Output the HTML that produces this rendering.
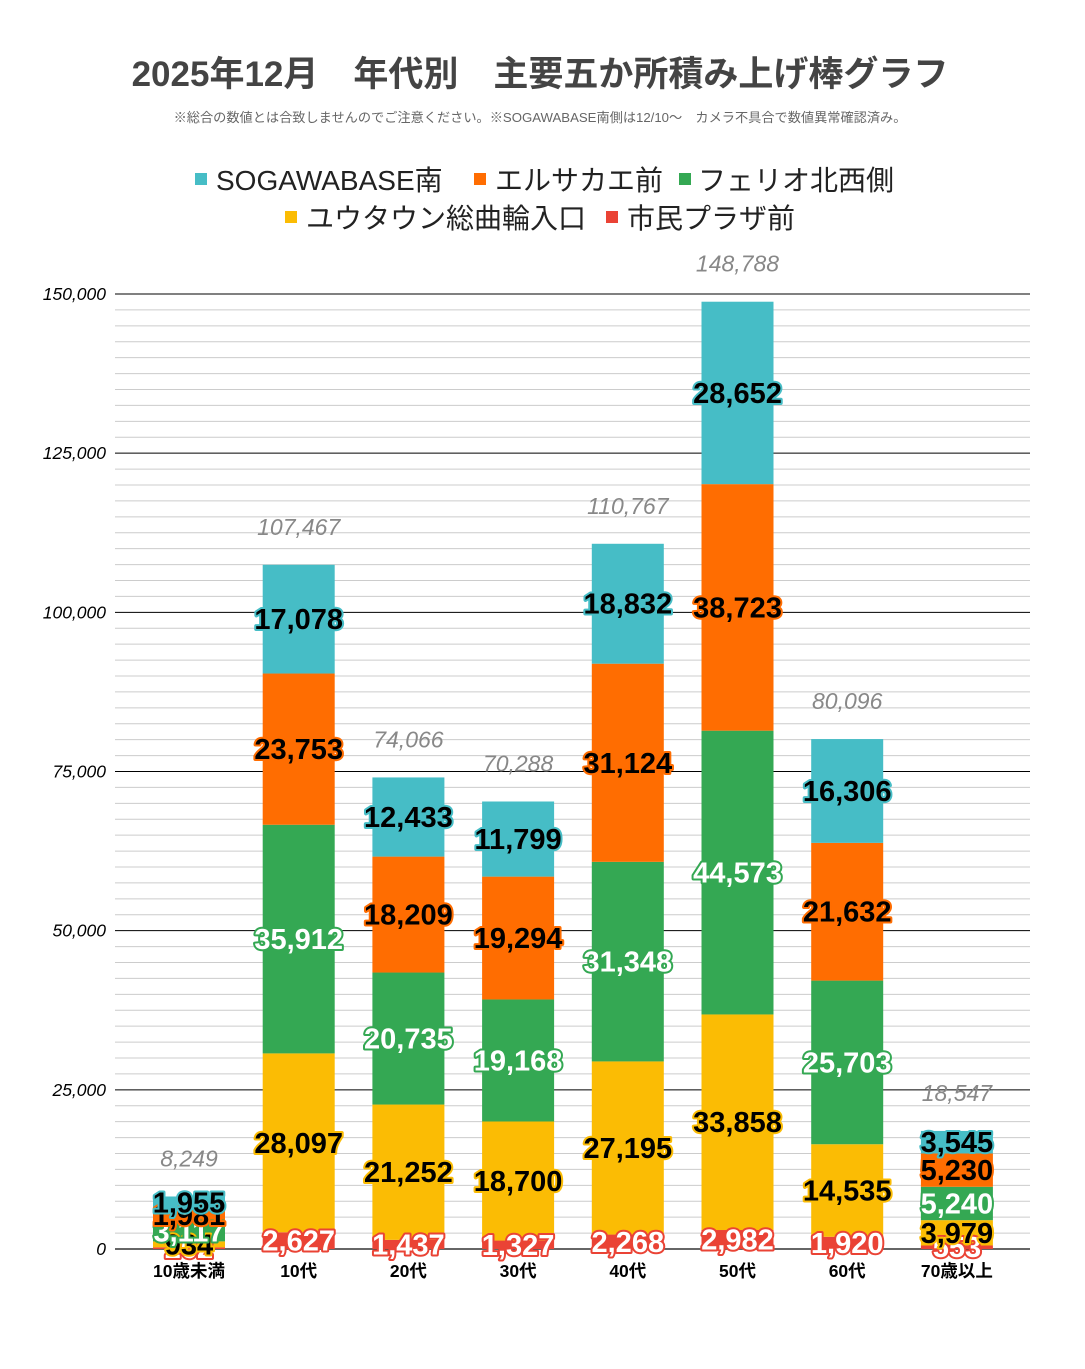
<!DOCTYPE html>
<html><head><meta charset="utf-8"><style>
body{margin:0;background:#fff;}
svg text{font-family:"Liberation Sans","Noto Sans CJK JP",sans-serif;}
</style></head><body>
<svg id="s" width="1085" height="1364" xmlns="http://www.w3.org/2000/svg">
<rect width="1085" height="1364" fill="#fff"/>
<text x="540" y="86" text-anchor="middle" font-size="35" font-weight="bold" fill="#444">2025年12月　年代別　主要五か所積み上げ棒グラフ</text>
<text x="540" y="122" text-anchor="middle" font-size="13.2" fill="#666">※総合の数値とは合致しませんのでご注意ください。※SOGAWABASE南側は12/10～　カメラ不具合で数値異常確認済み。</text>
<g font-size="28" fill="#222">
<rect x="195" y="173" width="12" height="12" fill="#46bdc6"/><text x="216" y="190">SOGAWABASE南</text>
<rect x="474" y="173" width="12" height="12" fill="#ff6d01"/><text x="495" y="190">エルサカエ前</text>
<rect x="679" y="173" width="12" height="12" fill="#34a853"/><text x="698" y="190">フェリオ北西側</text>
<rect x="285" y="211" width="12" height="12" fill="#fbbc04"/><text x="306" y="228">ユウタウン総曲輪入口</text>
<rect x="606" y="211" width="12" height="12" fill="#ea4335"/><text x="627" y="228">市民プラザ前</text>
</g>
<g id="g"></g>
</svg>
<script>
var g=document.getElementById('g');var h='';
var y0=1249,k=955/150000;
for(var i=0;i<=60;i++){var v=i*2500,y=y0-v*k;var maj=i%10==0;
if(i>0)h+='<line x1="115" x2="1030" y1="'+y+'" y2="'+y+'" stroke="'+(maj?'#000':'#ccc')+'" stroke-width="1"/>';
if(maj)h+='<text x="106" y="'+(y+6)+'" text-anchor="end" font-size="17.5" font-style="italic" fill="#000">'+v.toLocaleString('en-US')+'</text>';}
h+='<line x1="115" x2="1030" y1="1249" y2="1249" stroke="#333" stroke-width="1.5"/>';
var cats=['10歳未満','10代','20代','30代','40代','50代','60代','70歳以上'];
var d=[[262,934,3117,1981,1955],[2627,28097,35912,23753,17078],[1437,21252,20735,18209,12433],[1327,18700,19168,19294,11799],[2268,27195,31348,31124,18832],[2982,33858,44573,38723,28652],[1920,14535,25703,21632,16306],[553,3979,5240,5230,3545]];
var col=['#ea4335','#fbbc04','#34a853','#ff6d01','#46bdc6'];
var fill=['#fff','#000','#fff','#000','#000'];
var lab='';
for(var c=0;c<8;c++){var cx=189+c*109.7,acc=0;
for(var s=0;s<5;s++){var v=d[c][s],yb=y0-acc*k,yt=y0-(acc+v)*k;
h+='<rect x="'+(cx-36)+'" y="'+yt+'" width="72" height="'+(yb-yt)+'" fill="'+col[s]+'"/>';
lab+='<text x="'+cx+'" y="'+((yb+yt)/2+10)+'" text-anchor="middle" font-size="29" font-weight="bold" fill="'+fill[s]+'" stroke="'+col[s]+'" stroke-width="4" paint-order="stroke" stroke-linejoin="round">'+v.toLocaleString('en-US')+'</text>';
acc+=v;}
var yt=y0-acc*k;
lab+='<text x="'+cx+'" y="'+(yt-30)+'" text-anchor="middle" font-size="23" font-style="italic" fill="#888">'+acc.toLocaleString('en-US')+'</text>';
lab+='<text x="'+cx+'" y="1277" text-anchor="middle" font-size="17.5" font-weight="bold" fill="#000">'+cats[c]+'</text>';}
g.innerHTML=h+lab;
</script>
</body></html>
